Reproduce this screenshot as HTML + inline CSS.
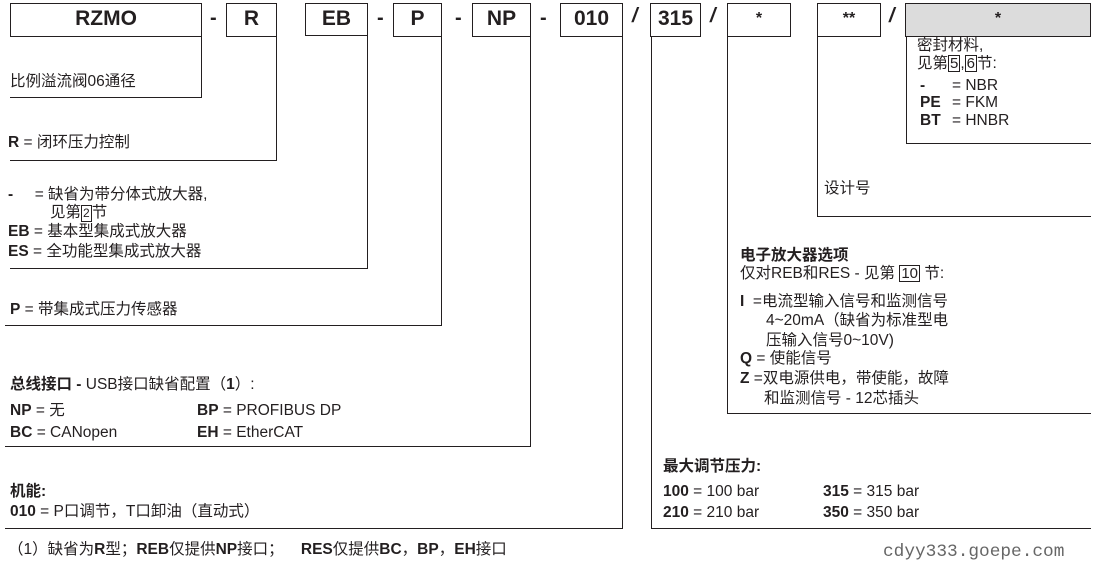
<!DOCTYPE html>
<html><head><meta charset="utf-8"><style>
body{margin:0;width:1102px;height:571px;background:#fff;position:relative;overflow:hidden;font-family:"Liberation Sans","Noto Sans CJK SC",sans-serif;color:#231f20}
.b{position:absolute;border:1.3px solid #231f20;box-sizing:border-box;font-weight:bold;font-size:21px;text-align:center;line-height:30px}
.v{position:absolute;width:1.3px;background:#231f20}
.h{position:absolute;height:1.3px;background:#231f20}
.t{position:absolute;font-size:15.5px;line-height:18px;white-space:nowrap}
.d{position:absolute;font-weight:bold;font-size:20px;line-height:20px}
.sq{display:inline-block;border:1px solid #231f20;padding:0 1px;line-height:15px;font-size:15px}
</style></head><body>
<div class="b" style="left:10px;top:3px;width:192px;height:34px">RZMO</div>
<div class="d" style="left:210px;top:8px">-</div>
<div class="b" style="left:226px;top:3px;width:51px;height:34px">R</div>
<div class="b" style="left:305px;top:3px;width:63px;height:33px">EB</div>
<div class="d" style="left:377px;top:8px">-</div>
<div class="b" style="left:393px;top:3px;width:49px;height:34px">P</div>
<div class="d" style="left:455px;top:8px">-</div>
<div class="b" style="left:472px;top:3px;width:59px;height:34px">NP</div>
<div class="d" style="left:540px;top:8px">-</div>
<div class="b" style="left:560px;top:3px;width:63px;height:34px">010</div>
<div class="d" style="left:632px;top:6px;font-style:italic">/</div>
<div class="b" style="left:650px;top:3px;width:51px;height:34px">315</div>
<div class="d" style="left:710px;top:6px;font-style:italic">/</div>
<div class="b" style="left:727px;top:3px;width:64px;height:34px;font-size:16px">*</div>
<div class="b" style="left:817px;top:3px;width:64px;height:34px;font-size:16px">**</div>
<div class="d" style="left:889px;top:6px;font-style:italic">/</div>
<div class="b" style="left:905px;top:3px;width:186px;height:34px;background:#dcdcdc;font-size:16px">*</div>

<div class="v" style="left:201px;top:36px;height:62px"></div><div class="h" style="left:10px;top:97px;width:192px"></div>
<div class="v" style="left:276px;top:36px;height:125px"></div><div class="h" style="left:10px;top:160px;width:267px"></div>
<div class="v" style="left:367px;top:35px;height:234px"></div><div class="h" style="left:10px;top:268px;width:358px"></div>
<div class="v" style="left:441px;top:36px;height:290px"></div><div class="h" style="left:5px;top:325px;width:437px"></div>
<div class="v" style="left:530px;top:36px;height:411px"></div><div class="h" style="left:5px;top:446px;width:526px"></div>
<div class="v" style="left:622px;top:36px;height:493px"></div><div class="h" style="left:5px;top:528px;width:618px"></div>
<div class="v" style="left:651px;top:36px;height:493px"></div><div class="h" style="left:651px;top:528px;width:440px"></div>
<div class="v" style="left:727px;top:36px;height:378px"></div><div class="h" style="left:727px;top:413px;width:364px"></div>
<div class="v" style="left:817px;top:36px;height:181px"></div><div class="h" style="left:817px;top:216px;width:274px"></div>
<div class="v" style="left:906px;top:36px;height:108px"></div><div class="h" style="left:906px;top:143px;width:185px"></div>

<div class="t" style="left:10px;top:73px">比例溢流阀06通径</div>
<div class="t" style="left:8px;top:134px"><b>R</b> = 闭环压力控制</div>
<div class="t" style="left:8px;top:186px"><b>-</b>&nbsp;&nbsp;&nbsp;&nbsp; = 缺省为带分体式放大器,</div>
<div class="t" style="left:50px;top:204px">见第<span class="sq" style="font-size:12px">2</span>节</div>
<div class="t" style="left:8px;top:223px"><b>EB</b> = 基本型集成式放大器</div>
<div class="t" style="left:8px;top:243px"><b>ES</b> = 全功能型集成式放大器</div>
<div class="t" style="left:10px;top:301px"><b>P</b> = 带集成式压力传感器</div>
<div class="t" style="left:10px;top:376px"><b>总线接口 -</b> USB接口缺省配置（<b>1</b>）:</div>
<div class="t" style="left:10px;top:402px"><b>NP</b> = 无</div>
<div class="t" style="left:197px;top:402px"><b>BP</b> = PROFIBUS DP</div>
<div class="t" style="left:10px;top:424px"><b>BC</b> = CANopen</div>
<div class="t" style="left:197px;top:424px"><b>EH</b> = EtherCAT</div>
<div class="t" style="left:10px;top:483px"><b>机能:</b></div>
<div class="t" style="left:10px;top:503px"><b>010</b> = P口调节，T口卸油（直动式）</div>
<div class="t" style="left:8px;top:541px">（1）缺省为<b>R</b>型；<b>REB</b>仅提供<b>NP</b>接口；&nbsp;&nbsp;&nbsp; <b>RES</b>仅提供<b>BC</b>，<b>BP</b>，<b>EH</b>接口</div>
<div class="t" style="left:883px;top:543px;font-family:'Liberation Mono',monospace;color:#666;font-size:17.8px">cdyy333.goepe.com</div>

<div class="t" style="left:663px;top:458px"><b>最大调节压力:</b></div>
<div class="t" style="left:663px;top:483px"><b>100</b> = 100 bar</div>
<div class="t" style="left:823px;top:483px"><b>315</b> = 315 bar</div>
<div class="t" style="left:663px;top:504px"><b>210</b> = 210 bar</div>
<div class="t" style="left:823px;top:504px"><b>350</b> = 350 bar</div>

<div class="t" style="left:740px;top:247px"><b>电子放大器选项</b></div>
<div class="t" style="left:740px;top:265px">仅对REB和RES - 见第 <span class="sq">10</span> 节:</div>
<div class="t" style="left:740px;top:293px"><b>I</b>&nbsp; =电流型输入信号和监测信号</div>
<div class="t" style="left:766px;top:312px">4~20mA（缺省为标准型电</div>
<div class="t" style="left:766px;top:332px">压输入信号0~10V)</div>
<div class="t" style="left:740px;top:350px"><b>Q</b> = 使能信号</div>
<div class="t" style="left:740px;top:370px"><b>Z</b> =双电源供电，带使能，故障</div>
<div class="t" style="left:764px;top:390px">和监测信号 - 12芯插头</div>

<div class="t" style="left:824px;top:180px">设计号</div>

<div class="t" style="left:917px;top:37px">密封材料,</div>
<div class="t" style="left:917px;top:55px">见第<span class="sq">5</span>,<span class="sq">6</span>节:</div>
<div class="t" style="left:920px;top:77px"><b>-</b></div><div class="t" style="left:952px;top:77px">= NBR</div>
<div class="t" style="left:920px;top:94px"><b>PE</b></div><div class="t" style="left:952px;top:94px">= FKM</div>
<div class="t" style="left:920px;top:112px"><b>BT</b></div><div class="t" style="left:952px;top:112px">= HNBR</div>
</body></html>
